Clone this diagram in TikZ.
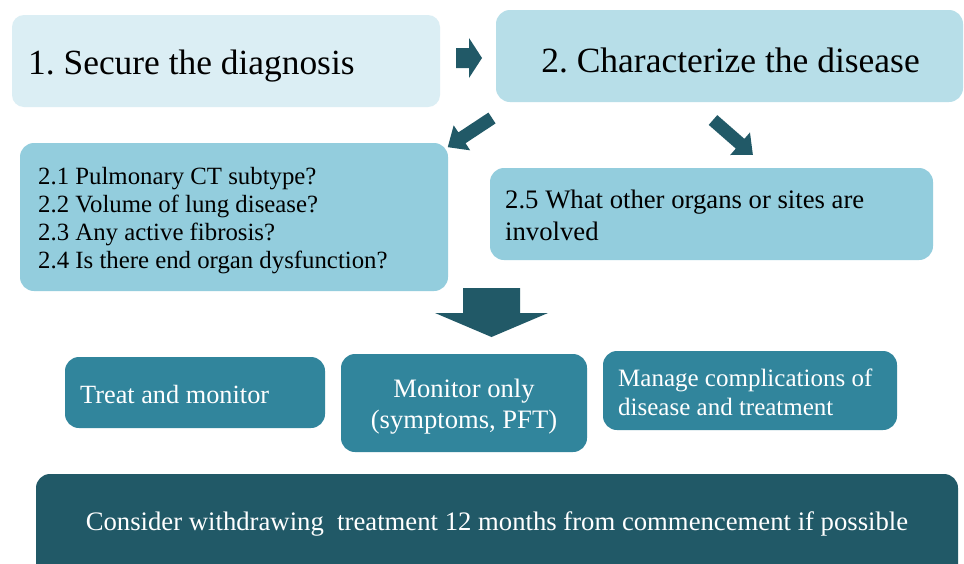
\documentclass[tikz,border=0pt]{standalone}
\usepackage{fontspec}
\setmainfont{Liberation Serif}
\definecolor{cone}{HTML}{DBEEF4}
\definecolor{ctwo}{HTML}{B7DEE8}
\definecolor{cthree}{HTML}{93CDDD}
\definecolor{cfour}{HTML}{31859C}
\definecolor{cdark}{HTML}{215967}
\newcommand\blockarr[6]{%
  \fill[cdark, shift={(#1)}, rotate=#2]
    (0,-#4) -- (#3-#6,-#4) -- (#3-#6,-#5) -- (#3,0) -- (#3-#6,#5) -- (#3-#6,#4) -- (0,#4) -- cycle;}
\begin{document}
\frenchspacing
\begin{tikzpicture}[x=1pt,y=-1pt,
  box/.style={rounded corners=14pt, inner sep=0pt, anchor=center},
  txt/.style={inner sep=0pt, align=left, anchor=west}]
\path[use as bounding box, fill=white] (0,0) rectangle (964,563);

% boxes
\node[box, fill=cone, minimum width=428, minimum height=92, rounded corners=12pt] (b1) at (226,61) {};
\node[box, fill=ctwo, minimum width=467, minimum height=92] (b2) at (729.5,56) {};
\node[box, fill=cthree, minimum width=428, minimum height=148] (q1) at (234,217) {};
\node[box, fill=cthree, minimum width=443, minimum height=92] (q5) at (711.5,214) {};
\node[box, fill=cfour, minimum width=260, minimum height=71] (t1) at (195,392.5) {};
\node[box, fill=cfour, minimum width=246, minimum height=98] (t2) at (464,403) {};
\node[box, fill=cfour, minimum width=294, minimum height=79] (t3) at (750,390.5) {};
\fill[cdark, rounded corners=14pt] (36,474) rectangle (958,600);

% texts
\node[txt, font=\fontsize{35.4}{40}\selectfont] (b1t) at (28,66) {1. Secure the diagnosis};
\node[txt, anchor=center, font=\fontsize{35.5}{40}\selectfont] (b2t) at (730.5,60) {2. Characterize the disease};
\node[txt, font=\fontsize{24.8}{28}\selectfont] (q1t) at (38,220.5)
  {2.1 Pulmonary CT subtype?\\2.2 Volume of lung disease?\\2.3 Any active fibrosis?\\2.4 Is there end organ dysfunction?};
\node[txt, font=\fontsize{26.7}{32}\selectfont] (q5t) at (505,215)
  {2.5 What other organs or sites are\\involved};
\node[txt, text=white, font=\fontsize{26.3}{31}\selectfont] (t1t) at (80,394) {Treat and monitor};
\node[txt, text=white, align=center, anchor=center, font=\fontsize{26.6}{31}\selectfont] (t2t) at (464,407)
  {Monitor only\\(symptoms, PFT)};
\node[txt, text=white, font=\fontsize{25}{29}\selectfont] (t3t) at (618,392) {Manage complications of\\disease and treatment};
\node[txt, anchor=center, text=white, font=\fontsize{26.7}{31}\selectfont] (w) at (497,524)
  {Consider withdrawing\ \ treatment 12 months from commencement if possible};

% block arrows
\blockarr{456,58}{0}{26}{10}{20}{13}
\blockarr{492,118}{213.4}{53}{6.5}{15}{17}
\blockarr{713,120}{-41.2}{53}{6.5}{15}{17}
\blockarr{491.5,288}{-90}{49}{28.5}{56.5}{24}
\end{tikzpicture}
\end{document}
